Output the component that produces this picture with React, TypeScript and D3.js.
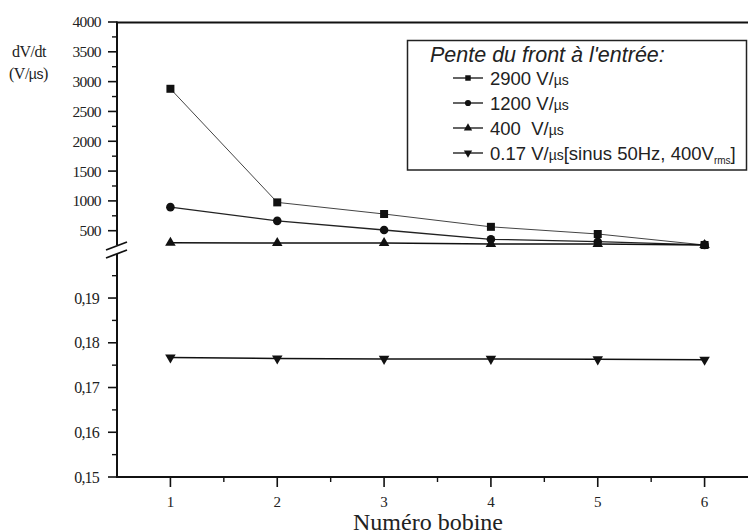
import React from "react";
import * as d3 from "d3";

const bobines = [1, 2, 3, 4, 5, 6];
const s2900 = [2880, 975, 780, 565, 445, 260];
const s1200 = [895, 665, 512, 356, 316, 262];
const s400 = [298, 294, 293, 278, 276, 260];
const s017 = [0.1767, 0.1765, 0.1764, 0.1764, 0.1763, 0.1762];

const upperMajor = [500, 1000, 1500, 2000, 2500, 3000, 3500, 4000];
const upperMinor = [750, 1250, 1750, 2250, 2750, 3250, 3750];
const lowerMajor = [0.15, 0.16, 0.17, 0.18, 0.19];
const lowerMinor = [0.155, 0.165, 0.175, 0.185, 0.195];
const xMinor = [1.5, 2.5, 3.5, 4.5, 5.5, 6.5];

const legendTitle = "Pente du front à l'entrée:";
const legendItems = ["2900 V/", "1200 V/", "400  V/", "0.17 V/"];

const W = 748;
const H = 531;
const AX = 117;

export default function App() {
  const x = d3.scaleLinear().domain([0.5, 6.5]).range([AX, 758]);
  const yU = d3.scaleLinear().domain([200, 4000]).range([248.6, 22]);
  const yL = d3.scaleLinear().domain([0.15, 0.2]).range([477, 253.3]);

  const lineU = d3
    .line<number>()
    .x((_, i) => x(bobines[i]))
    .y((d) => yU(d));
  const lineL = d3
    .line<number>()
    .x((_, i) => x(bobines[i]))
    .y((d) => yL(d));

  const sq = d3.symbol().type(d3.symbolSquare).size(64)() as string;
  const ci = d3.symbol().type(d3.symbolCircle).size(58)() as string;
  const tr = d3.symbol().type(d3.symbolTriangle).size(48)() as string;
  const sqL = d3.symbol().type(d3.symbolSquare).size(30)() as string;
  const ciL = d3.symbol().type(d3.symbolCircle).size(30)() as string;
  const trL = d3.symbol().type(d3.symbolTriangle).size(30)() as string;

  const serif = "Liberation Serif";
  const sans = "Liberation Sans";

  const upperSeries = [
    { data: s2900, sym: sq, sw: 1, col: "#444" },
    { data: s1200, sym: ci, sw: 1.3, col: "#222" },
    { data: s400, sym: tr, sw: 1.6, col: "#111" },
  ];
  const legendSyms = [
    { p: sqL, rot: 0 },
    { p: ciL, rot: 0 },
    { p: trL, rot: 0 },
    { p: trL, rot: 180 },
  ];

  return (
    <svg
      width={W}
      height={H}
      style={{ position: "absolute", left: 0, top: 0, background: "#fff" }}
    >
      <rect x={0} y={0} width={W} height={H} fill="#fff" />
      <line x1={AX} x2={W} y1={22.5} y2={22.5} stroke="#111" strokeWidth={2} />
      <line x1={AX - 1} x2={W} y1={477} y2={477} stroke="#111" strokeWidth={2} />
      <line x1={AX} x2={AX} y1={21.5} y2={245} stroke="#111" strokeWidth={2} />
      <line x1={AX} x2={AX} y1={254} y2={478} stroke="#111" strokeWidth={2} />
      <line x1={106} x2={127} y1={250} y2={242} stroke="#111" strokeWidth={1.8} />
      <line x1={106} x2={127} y1={258} y2={250} stroke="#111" strokeWidth={1.8} />

      {upperMajor.map((v) => (
        <g key={"um" + v}>
          <line x1={AX - 9} x2={AX} y1={yU(v)} y2={yU(v)} stroke="#111" strokeWidth={1.6} />
          <text
            x={101}
            y={yU(v)}
            dy="0.35em"
            textAnchor="end"
            fontFamily={serif}
            fontSize={15.5}
            letterSpacing={-0.6}
            fill="#222"
          >
            {v}
          </text>
        </g>
      ))}
      {upperMinor.map((v) => (
        <line key={"un" + v} x1={AX - 5} x2={AX} y1={yU(v)} y2={yU(v)} stroke="#111" strokeWidth={1.4} />
      ))}
      {lowerMajor.map((v) => (
        <g key={"lm" + v}>
          <line x1={AX - 9} x2={AX} y1={yL(v)} y2={yL(v)} stroke="#111" strokeWidth={1.6} />
          <text
            x={99}
            y={yL(v)}
            dy="0.35em"
            textAnchor="end"
            fontFamily={serif}
            fontSize={16}
            letterSpacing={-0.8}
            fill="#222"
          >
            {v.toFixed(2).replace(".", ",")}
          </text>
        </g>
      ))}
      {lowerMinor.map((v) => (
        <line key={"ln" + v} x1={AX - 5} x2={AX} y1={yL(v)} y2={yL(v)} stroke="#111" strokeWidth={1.4} />
      ))}
      {bobines.map((b) => (
        <g key={"xt" + b}>
          <line x1={x(b)} x2={x(b)} y1={477} y2={487} stroke="#111" strokeWidth={1.6} />
          <text x={x(b)} y={507} textAnchor="middle" fontFamily={serif} fontSize={15} fill="#222">
            {b}
          </text>
        </g>
      ))}
      {xMinor.map((b) => (
        <line key={"xm" + b} x1={x(b)} x2={x(b)} y1={477} y2={482} stroke="#111" strokeWidth={1.4} />
      ))}

      <text x={12} y={57} fontFamily={serif} fontSize={16} fill="#222" letterSpacing={-0.5}>
        dV/dt
      </text>
      <text x={9} y={79} fontFamily={serif} fontSize={16} fill="#222" letterSpacing={-0.5}>
        (V/<tspan fontFamily={sans} fontSize={14}>µs</tspan>)
      </text>
      <text x={428} y={530} textAnchor="middle" fontFamily={serif} fontSize={24} fill="#222">
        Numéro bobine
      </text>

      {upperSeries.map((s, k) => (
        <g key={"us" + k}>
          <path d={lineU(s.data) as string} fill="none" stroke={s.col} strokeWidth={s.sw} />
          {s.data.map((v, i) => (
            <path
              key={i}
              d={s.sym}
              transform={`translate(${x(bobines[i])},${yU(v)})`}
              fill="#111"
            />
          ))}
        </g>
      ))}
      <path d={lineL(s017) as string} fill="none" stroke="#111" strokeWidth={1.5} />
      {s017.map((v, i) => (
        <path
          key={"ls" + i}
          d={tr}
          transform={`translate(${x(bobines[i])},${yL(v)}) rotate(180)`}
          fill="#111"
        />
      ))}

      <rect x={407.5} y={40.5} width={339} height={129.5} fill="#fff" stroke="#222" strokeWidth={1.5} />
      <text x={430} y={62} fontFamily={sans} fontStyle="italic" fontSize={21.5} fill="#222">
        {legendTitle}
      </text>
      {legendItems.map((t, i) => {
        const cy = 78 + i * 25;
        return (
          <g key={"lg" + i}>
            <line x1={453} x2={483} y1={cy} y2={cy} stroke="#222" strokeWidth={1.4} />
            <path d={legendSyms[i].p} transform={`translate(468,${cy}) rotate(${legendSyms[i].rot})`} fill="#111" />
            <text x={490} y={cy + 6.5} fontFamily={sans} fontSize={18.5} fill="#222" xmlSpace="preserve">
              {t}
              <tspan fontSize={14}>µs</tspan>
              {i === 3 ? (
                <>
                  <tspan>[sinus 50Hz, 400V</tspan>
                  <tspan fontSize={10} dy={4}>rms</tspan>
                  <tspan dy={-4}>]</tspan>
                </>
              ) : null}
            </text>
          </g>
        );
      })}
    </svg>
  );
}
